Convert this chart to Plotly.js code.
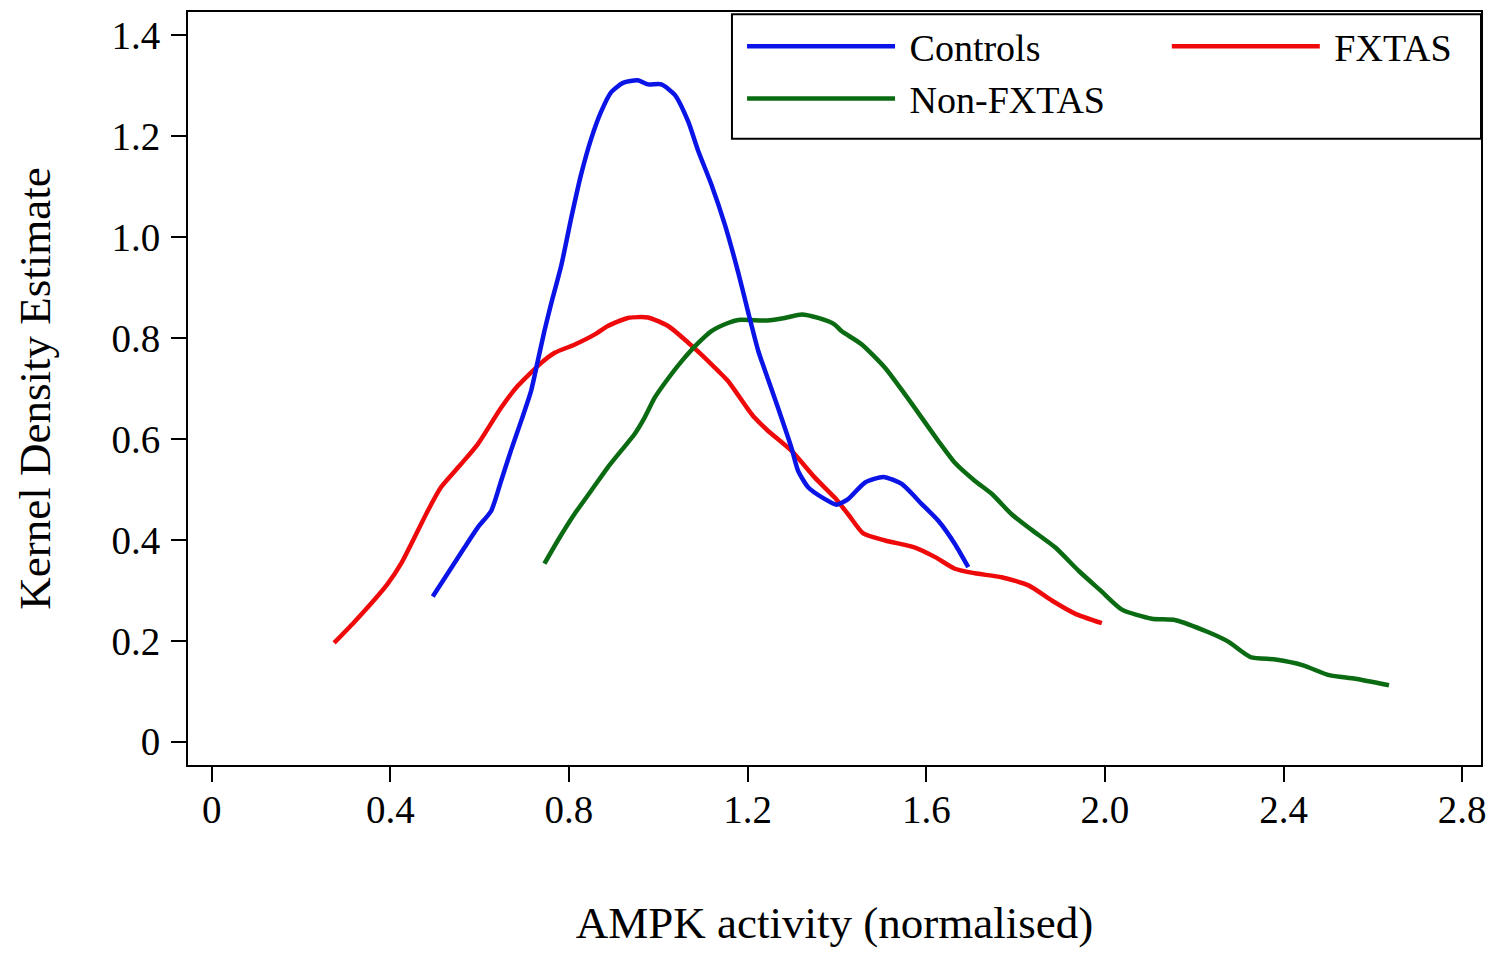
<!DOCTYPE html>
<html>
<head>
<meta charset="utf-8">
<script src="https://cdn.plot.ly/plotly-3.0.1.min.js"></script>
<style>
  body { margin: 0; background: #ffffff; }
  #plot { width: 1500px; height: 967px; }
</style>
</head>
<body>
<div id="plot"></div>
<script>
// values
var controlsX = [0.495, 0.528, 0.566, 0.596, 0.626, 0.648, 0.670, 0.693, 0.715, 0.730,
                 0.745, 0.760, 0.783, 0.805, 0.827, 0.850, 0.872, 0.895, 0.921, 0.954,
                 0.977, 1.007, 1.037, 1.067, 1.089, 1.119, 1.149, 1.179, 1.201, 1.224,
                 1.238, 1.268, 1.298, 1.313, 1.336, 1.373, 1.399, 1.425, 1.463, 1.504,
                 1.545, 1.590, 1.627, 1.664, 1.694];
var controlsY = [0.288, 0.333, 0.385, 0.425, 0.458, 0.517, 0.577, 0.636, 0.695, 0.754,
                 0.814, 0.868, 0.945, 1.038, 1.124, 1.196, 1.249, 1.288, 1.306, 1.311,
                 1.303, 1.303, 1.282, 1.229, 1.172, 1.104, 1.025, 0.930, 0.852, 0.774,
                 0.738, 0.662, 0.583, 0.537, 0.504, 0.481, 0.470, 0.481, 0.514, 0.525,
                 0.511, 0.471, 0.438, 0.392, 0.346];

var fxtasX = [0.274, 0.319, 0.394, 0.424, 0.484, 0.513, 0.558, 0.596, 0.648, 0.685,
              0.738, 0.768, 0.812, 0.857, 0.887, 0.932, 0.977, 1.022, 1.067, 1.096,
              1.134, 1.156, 1.201, 1.216, 1.246, 1.298, 1.350, 1.395, 1.425, 1.459,
              1.508, 1.575, 1.620, 1.664, 1.709, 1.769, 1.829, 1.881, 1.933, 1.993];
var fxtasY = [0.196, 0.237, 0.313, 0.353, 0.458, 0.504, 0.550, 0.590, 0.662, 0.705,
              0.751, 0.771, 0.787, 0.807, 0.824, 0.840, 0.841, 0.824, 0.791, 0.768,
              0.735, 0.715, 0.659, 0.642, 0.616, 0.577, 0.524, 0.484, 0.451, 0.413,
              0.399, 0.385, 0.366, 0.343, 0.334, 0.326, 0.310, 0.280, 0.254, 0.235];

var nonFxtasX = [0.745, 0.775, 0.812, 0.850, 0.887, 0.917, 0.947, 0.969, 0.992, 1.022,
                 1.052, 1.089, 1.119, 1.156, 1.179, 1.244, 1.283, 1.321, 1.358, 1.395,
                 1.410, 1.455, 1.508, 1.552, 1.590, 1.627, 1.664, 1.709, 1.747, 1.791,
                 1.836, 1.889, 1.941, 1.990, 2.038, 2.105, 2.158, 2.232, 2.277, 2.326,
                 2.382, 2.442, 2.502, 2.561, 2.636];
var nonFxtasY = [0.353, 0.399, 0.451, 0.498, 0.544, 0.577, 0.610, 0.642, 0.682, 0.720,
                 0.754, 0.790, 0.814, 0.830, 0.836, 0.835, 0.840, 0.847, 0.840, 0.827,
                 0.814, 0.788, 0.741, 0.689, 0.642, 0.596, 0.553, 0.517, 0.491, 0.451,
                 0.420, 0.385, 0.339, 0.300, 0.262, 0.244, 0.241, 0.217, 0.198, 0.168,
                 0.163, 0.152, 0.132, 0.125, 0.112];

var xTickVals = [0, 0.4, 0.8, 1.2, 1.6, 2.0, 2.4, 2.8];
var xTickText = ['0', '0.4', '0.8', '1.2', '1.6', '2.0', '2.4', '2.8'];
var yTickVals = [0, 0.2, 0.4, 0.6, 0.8, 1.0, 1.2, 1.4];
var yTickText = ['0', '0.2', '0.4', '0.6', '0.8', '1.0', '1.2', '1.4'];

var serif = 'Liberation Serif, Times New Roman, serif';
var pad = '\u00a0'; // small gap between legend sample and its label

function curve(name, xs, ys, color, legendId, rank) {
	return {
		name: pad + name,
		type: 'scatter',
		mode: 'lines',
		x: xs,
		y: ys,
		line: { color: color, width: 4.5, shape: 'spline', smoothing: 0.6 },
		legend: legendId,
		legendrank: rank,
		hoverinfo: 'skip'
	};
}

var data = [
	curve('FXTAS', fxtasX, fxtasY, '#ee0a0a', 'legend2', 2),
	curve('Non-FXTAS', nonFxtasX, nonFxtasY, '#0b6b12', 'legend', 3),
	curve('Controls', controlsX, controlsY, '#0a14e6', 'legend', 1)
];

function axisStyle(standoff) {
	return {
		showgrid: false,
		zeroline: false,
		showline: true,
		mirror: true,
		linecolor: '#000000',
		linewidth: 2,
		ticks: 'outside',
		ticklen: 15,
		tickwidth: 2,
		tickcolor: '#000000',
		tickmode: 'array',
		tickfont: { family: serif, size: 39, color: '#000000' },
		ticklabelstandoff: standoff,
		automargin: true
	};
}

var xaxis = axisStyle(-6);
xaxis.range = [-0.053, 2.842];
xaxis.tickvals = xTickVals;
xaxis.ticktext = xTickText;
xaxis.title = { text: 'AMPK activity (normalised)', font: { family: serif, size: 45, color: '#000000' }, standoff: 77 };

var yaxis = axisStyle(3);
yaxis.range = [-0.046, 1.4464];
yaxis.tickvals = yTickVals;
yaxis.ticktext = yTickText;
yaxis.title = { text: 'Kernel Density Estimate', font: { family: serif, size: 45, color: '#000000' }, standoff: 47 };

var legendStyle = {
	y: 0.996,
	xanchor: 'left',
	yanchor: 'top',
	bgcolor: 'rgba(0,0,0,0)',
	borderwidth: 0,
	itemwidth: 148,
	font: { family: serif, size: 38, color: '#000000' }
};

var layout = {
	width: 1500,
	height: 967,
	margin: { l: 188, r: 19, t: 10, b: 202 },
	paper_bgcolor: '#ffffff',
	plot_bgcolor: '#ffffff',
	font: { family: serif, color: '#000000' },
	xaxis: xaxis,
	yaxis: yaxis,
	legend: Object.assign({ x: 0.4285 }, legendStyle),
	legend2: Object.assign({ x: 0.757 }, legendStyle),
	shapes: [{
		type: 'rect', xref: 'paper', yref: 'paper',
		x0: 0.4207, x1: 1, y0: 0.8318, y1: 0.997,
		line: { color: '#000000', width: 2 }
	}]
};

Plotly.newPlot('plot', data, layout, { staticPlot: true, displayModeBar: false });
</script>
</body>
</html>
